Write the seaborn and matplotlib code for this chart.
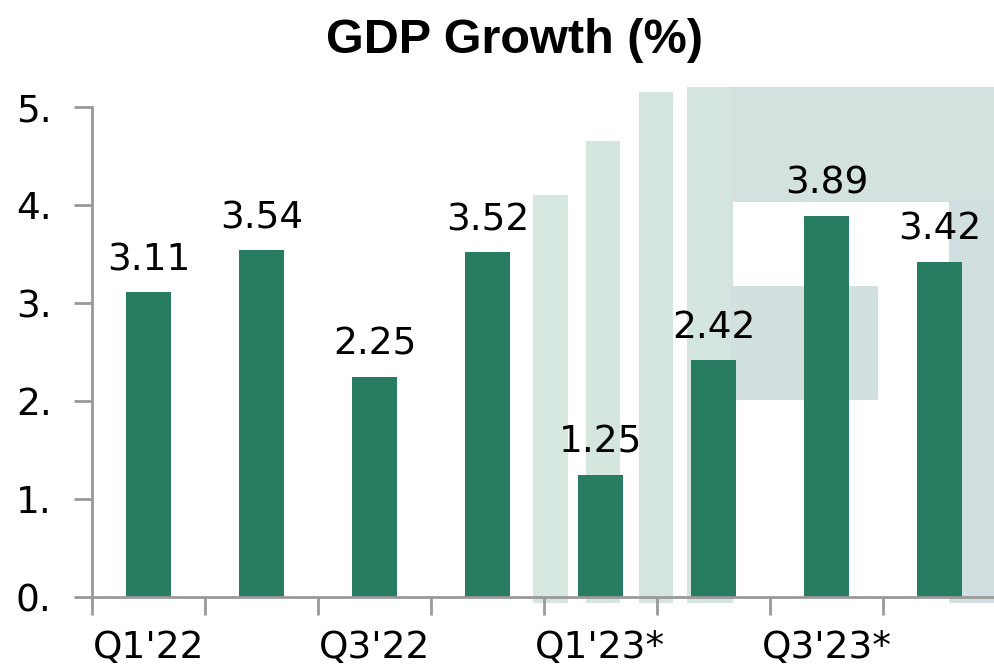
import numpy as np
import pandas as pd
import seaborn as sns
import matplotlib.pyplot as plt
from matplotlib.patches import Rectangle
from matplotlib.ticker import FixedLocator, FuncFormatter

quarters = ["Q1'22", "Q2'22", "Q3'22", "Q4'22", "Q1'23*", "Q2'23*", "Q3'23*", "Q4'23*"]
growth = [3.11, 3.54, 2.25, 3.52, 1.25, 2.42, 3.89, 3.42]
shown_labels = ["Q1'22", "Q3'22", "Q1'23*", "Q3'23*"]

sns.set_style('white')
plt.rcParams['font.family'] = ['DejaVu Sans']
plt.rcParams['text.color'] = 'black'
plt.rcParams['xtick.color'] = 'black'
plt.rcParams['ytick.color'] = 'black'

W, H = 995, 672
fig = plt.figure(figsize=(W / 100, H / 100), dpi=100)
ax = fig.add_axes([92 / W, 1 - 597 / H, 904 / W, 490 / H])
ax.patch.set_alpha(0)

# faint logo in the background (pixel boxes: x0, y0, x1, y1)
logo = [
    (533, 195, 568, 603, '#d5e7df'),
    (586, 141, 620, 603, '#d5e6df'),
    (639, 92, 673, 603, '#d4e5df'),
    (687, 87, 733, 603, '#d4e4df'),
    (731, 87, 995, 202, '#d3e2df'),
    (949, 200, 995, 603, '#d2dfe0'),
    (731, 286, 878, 400, '#d3e0e0'),
]
for x0, y0, x1, y1, c in logo:
    fig.add_artist(Rectangle((x0 / W, 1 - y1 / H), (x1 - x0) / W, (y1 - y0) / H,
                             transform=fig.transFigure, facecolor=c,
                             edgecolor='none', linewidth=0, zorder=-5))

df = pd.DataFrame({'quarter': quarters, 'growth': growth})
sns.barplot(data=df, x='quarter', y='growth', color='#287c62', saturation=1,
            width=0.4, linewidth=0, ax=ax)

for i, v in enumerate(growth):
    ax.annotate(f'{v:.2f}', (i, v), xytext=(0, 10), textcoords='offset points',
                ha='center', va='bottom', fontsize=27, color='black')

ax.set_xlim(-0.5, 7.5)
ax.set_ylim(0, 5)
ax.set_xlabel('')
ax.set_ylabel('')

ax.xaxis.set_major_locator(FixedLocator([0, 2, 4, 6]))
ax.set_xticklabels(shown_labels)
ax.xaxis.set_minor_locator(FixedLocator(np.arange(-0.5, 7, 1)))
ax.tick_params(axis='x', which='major', length=0, pad=24, labelsize=27)
ax.tick_params(axis='x', which='minor', length=13, width=2, color='#999999',
               direction='out', bottom=True)

ax.set_yticks([0, 1, 2, 3, 4, 5])
ax.yaxis.set_major_formatter(FuncFormatter(lambda v, p: f'{int(v)}.'))
ax.tick_params(axis='y', length=13, width=2, color='#999999', direction='out',
               left=True, pad=16, labelsize=27)

for s in ['top', 'right']:
    ax.spines[s].set_visible(False)
for s in ['left', 'bottom']:
    ax.spines[s].set_color('#999999')
    ax.spines[s].set_linewidth(2)

fig.text(515 / W, 1 - 53 / H, 'GDP Growth (%)', ha='center', va='baseline',
         fontsize=35, fontweight='bold', family='Liberation Sans')

fig.savefig('out.png', dpi=100)
